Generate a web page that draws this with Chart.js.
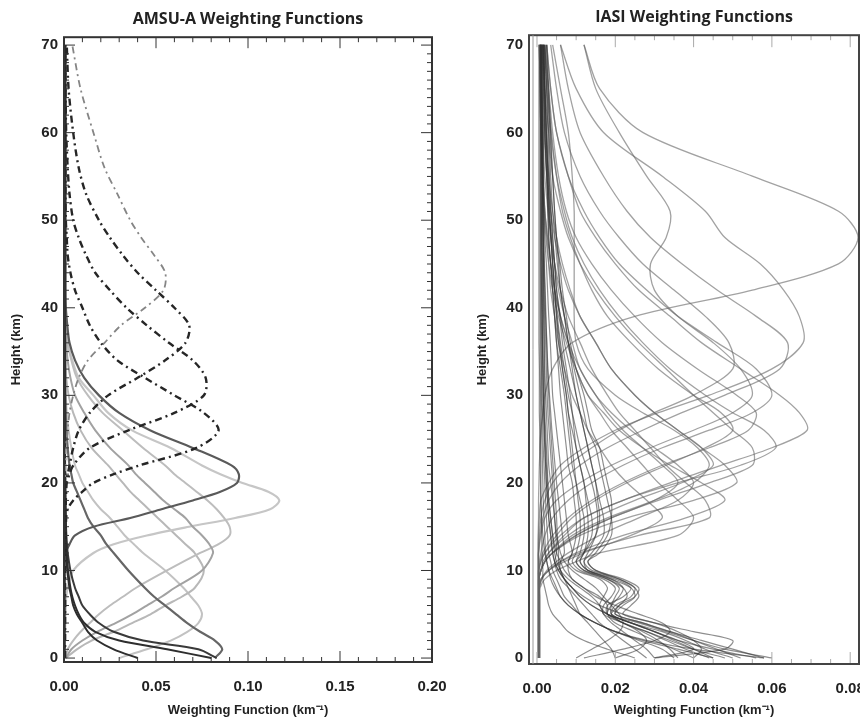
<!DOCTYPE html>
<html>
<head>
<meta charset="utf-8">
<script src="https://cdn.jsdelivr.net/npm/chart.js@4.4.0/dist/chart.umd.min.js"></script>
<style>
  html, body { margin: 0; padding: 0; background: #fff; width: 860px; height: 720px; overflow: hidden; }
  #amsu { position: absolute; left: 0; top: 0; }
  #iasi { position: absolute; left: 440px; top: 0; }
</style>
</head>
<body>
<canvas id="amsu" width="480" height="720"></canvas>
<canvas id="iasi" width="440" height="720"></canvas>
<script>
// tick labels
const amsuXTicks = [0, 0.05, 0.10, 0.15, 0.20];
const iasiXTicks = [0, 0.02, 0.04, 0.06, 0.08];
const heightTicks = [0, 10, 20, 30, 40, 50, 60, 70];

// AMSU-A: heights (km) and weighting function values (km^-1) per channel
const amsuHeights = [0,1,2,3,4,5,6,7,8, 10,12,13,14,15,16,17,18,19,20,21,22, 24,26,28,30,32,34,36,38,40, 42,44,46,48,50,53,56,60,65,70];

const amsuSurf1 = [.040,.027,.018,.013,.010,.007,.005,.004,.003, .0018,.0012,.001,.0009,.0008,.0007,.0007,.0006,.0006,.0006,.0006,.0005, .0005,.0005,.0005,.0005,.0005,.0005,.0005,.0005,.0005, .0004,.0004,.0004,.0004,.0004,.0004,.0004,.0004,.0004,.0004];
const amsuSurf2 = [.080,.056,.030,.017,.011,.008,.006,.0045,.0035, .0022,.0015,.0012,.001,.0009,.0008,.0007,.0007,.0006,.0006,.0006,.0005, .0005,.0005,.0005,.0005,.0005,.0005,.0005,.0005,.0005, .0004,.0004,.0004,.0004,.0004,.0004,.0004,.0004,.0004,.0004];
const amsuSurf3 = [.083,.073,.043,.027,.019,.014,.010,.008,.006, .0035,.002,.0016,.0013,.0011,.001,.0009,.0008,.0008,.0007,.0007,.0006, .0006,.0006,.0006,.0006,.0006,.0006,.0006,.0006,.0006, .0005,.0005,.0005,.0005,.0005,.0005,.0005,.0005,.0005,.0005];
const amsuSurf4 = [.082,.086,.082,.074,.067,.061,.055,.049,.044, .035,.027,.023,.020,.016,.013,.011,.009,.007,.005,.004,.003, .002,.0013,.0009,.0007,.0006,.0006,.0005,.0005,.0005, .0005,.0005,.0005,.0005,.0005,.0005,.0005,.0005,.0005,.0005];
const amsuTrop5 = [.030,.045,.058,.067,.073,.075,.073,.069,.065, .055,.043,.038,.033,.029,.025,.020,.016,.013,.010,.008,.006, .004,.0025,.0015,.001,.0008,.0007,.0006,.0006,.0005, .0005,.0005,.0005,.0005,.0005,.0005,.0005,.0005,.0005,.0005];
const amsuTrop9 = [.001,.007,.015,.027,.037,.047,.055,.064,.071, .076,.071,.066,.061,.056,.051,.046,.041,.036,.032,.028,.024, .015,.009,.005,.0025,.0012,.0008,.0007,.0006,.0005, .0005,.0005,.0005,.0005,.0005,.0005,.0005,.0005,.0005,.0005];
const amsuTrop11 = [.001,.004,.010,.018,.028,.037,.045,.053,.060, .075,.081,.079,.075,.070,.066,.060,.054,.049,.044,.039,.035, .025,.017,.011,.006,.0035,.002,.0012,.0008,.0007, .0006,.0006,.0006,.0006,.0006,.0006,.0006,.0006,.0006,.0006];
const amsuTrop14 = [.0008,.002,.005,.009,.014,.019,.025,.032,.039, .056,.074,.084,.090,.090,.087,.083,.078,.072,.066,.060,.055, .043,.032,.021,.013,.007,.004,.002,.0012,.0008, .0007,.0007,.0007,.0007,.0007,.0007,.0007,.0007,.0007,.0007];
const amsuStrat17 = [.0005,.0005,.0005,.0006,.0007,.0008,.001,.0012,.002, .005,.016,.027,.045,.068,.093,.112,.117,.111,.097,.085,.075, .058,.037,.024,.016,.008,.0045,.002,.0013,.001, .0009,.0009,.0009,.0009,.0009,.0009,.0009,.0009,.0009,.0009];
const amsuStrat21 = [.0005,.0005,.0005,.0005,.0005,.0005,.0005,.0005,.0005, .0006,.001,.003,.006,.016,.036,.053,.070,.085,.094,.095,.091, .070,.047,.030,.019,.011,.006,.003,.0018,.001, .0008,.0008,.0008,.0008,.0008,.0008,.0008,.0008,.0008,.0008];
const amsuStrat26 = [.0005,.0005,.0005,.0005,.0005,.0005,.0005,.0005,.0005, .0005,.0006,.0007,.0008,.001,.0012,.002,.005,.010,.016,.027,.041, .072,.084,.076,.060,.044,.029,.020,.014,.010, .006,.0035,.002,.0015,.001,.0008,.0008,.0007,.0007,.0006];
const amsuStrat31 = [.0005,.0005,.0005,.0005,.0005,.0005,.0005,.0005,.0005, .0005,.0005,.0006,.0006,.0007,.0008,.0009,.001,.0012,.0015,.003,.005, .014,.035,.060,.076,.077,.070,.057,.045,.034, .025,.017,.012,.008,.005,.003,.002,.0012,.0008,.0006];
const amsuStrat37 = [.0005,.0005,.0005,.0005,.0005,.0005,.0005,.0005,.0005, .0005,.0005,.0005,.0006,.0006,.0007,.0007,.0008,.0009,.001,.002,.003, .005,.008,.014,.024,.040,.055,.066,.068,.060, .050,.040,.032,.025,.019,.012,.008,.005,.0025,.0015];
const amsuStrat44 = [.0004,.0004,.0004,.0004,.0004,.0004,.0004,.0004,.0004, .0004,.0004,.0005,.0005,.0005,.0005,.0006,.0006,.0006,.0007,.0007,.0008, .001,.002,.003,.005,.008,.013,.022,.031,.044, .054,.055,.049,.042,.036,.029,.022,.016,.009,.0045];

// IASI: heights (km) and weighting function values (km^-1) per channel
const iasiHeights = [0,1,2,3,4,5,6,7,8,9,10,11,12, 14,16,18,20,22,24,26,28,30, 33,36,39,42,45,48,51, 55,60,65,70];

const iasiR1 = [.0003,.0003,.0003,.0003,.0003,.0003,.0003,.0003,.0003,.0003,.0003,.0003,.0003, .0003,.0004,.0004,.0005,.0006,.0008,.001,.0015,.002, .004,.009,.025,.055,.077,.082,.077, .055,.027,.016,.012];
const iasiR2 = [.0003,.0003,.0003,.0003,.0003,.0003,.0003,.0003,.0003,.0003,.0003,.0003,.0003, .0004,.0006,.001,.003,.006,.012,.020,.031,.044, .060,.068,.067,.063,.057,.048,.043, .032,.017,.010,.006];
const iasiR3 = [.0005,.0005,.0005,.0005,.0005,.0005,.0005,.0005,.0005,.0005,.001,.0015,.003, .007,.012,.022,.034,.047,.060,.069,.067,.062, .052,.042,.034,.026,.020,.015,.011, .008,.005,.0035,.0025];
const iasiR4 = [.0005,.0005,.0005,.0005,.0005,.0005,.0005,.0005,.0005,.0005,.001,.002,.004, .010,.019,.031,.044,.055,.055,.050,.045,.040, .033,.026,.020,.015,.011,.008,.006, .004,.003,.002,.0015];
const iasiR5 = [.0006,.0006,.0006,.0006,.0006,.0006,.0006,.0006,.0006,.001,.003,.006,.011, .026,.044,.043,.038,.033,.029,.025,.021,.018, .014,.011,.008,.006,.0045,.0035,.0028, .002,.0015,.001,.0008];
const iasiR6 = [.0008,.0008,.0008,.0008,.0008,.0008,.0008,.0008,.0008,.002,.005,.010,.016, .036,.040,.036,.031,.027,.023,.019,.016,.013, .010,.008,.006,.0045,.0035,.0027,.002, .0015,.001,.0008,.0006];
const iasiR7 = [.0004,.0004,.0004,.0004,.0004,.0004,.0004,.0004,.0004,.0004,.0004,.0006,.001, .002,.004,.008,.014,.022,.032,.044,.055,.060, .056,.046,.036,.028,.021,.016,.012, .008,.005,.0035,.0025];
const iasiR8 = [.0005,.0005,.0005,.0005,.0005,.0005,.0005,.0005,.0005,.0005,.0005,.001,.002, .006,.012,.022,.036,.052,.061,.058,.050,.043, .034,.027,.021,.016,.012,.009,.007, .005,.0035,.0025,.0018];
const iasiR9 = [.0005,.0005,.0005,.0005,.0005,.0005,.0005,.0005,.0005,.0005,.001,.002,.004, .011,.023,.040,.051,.048,.042,.036,.030,.025, .019,.015,.011,.008,.006,.0045,.0035, .0025,.0018,.0012,.0009];
const iasiR10 = [.0004,.0004,.0004,.0004,.0004,.0004,.0004,.0004,.0004,.0004,.0004,.0004,.0004, .001,.002,.005,.011,.019,.029,.040,.050,.055, .052,.045,.036,.030,.029,.033,.034, .028,.021,.015,.012];
const iasiR11 = [.0004,.0004,.0004,.0004,.0004,.0004,.0004,.0004,.0004,.0004,.001,.002,.004, .009,.018,.030,.040,.044,.041,.035,.027,.020, .013,.010,.0095,.0095,.0095,.0095,.0095, .009,.008,.006,.004];
const iasiR12 = [.0004,.0004,.0004,.0004,.0004,.0004,.0004,.0004,.0004,.0004,.0004,.0004,.0004, .0006,.001,.002,.004,.008,.014,.021,.030,.040, .050,.049,.043,.035,.027,.021,.016, .011,.007,.005,.0035];
const iasiR13 = [.0004,.0004,.0004,.0004,.0004,.0004,.0004,.0004,.0004,.0004,.0004,.0008,.0015, .004,.008,.014,.022,.032,.044,.054,.056,.051, .041,.032,.025,.019,.014,.010,.0075, .0055,.004,.003,.002];
const iasiR14 = [.0006,.0006,.0006,.0006,.0006,.0006,.0006,.0006,.0006,.0012,.0025,.005,.008, .016,.026,.036,.040,.036,.030,.024,.019,.015, .011,.008,.006,.0045,.0035,.0027,.002, .0015,.001,.0008,.0006];
const iasiR15 = [.0006,.0006,.0006,.0006,.0006,.0006,.0006,.0006,.0006,.0012,.003,.006,.010, .022,.038,.048,.042,.034,.027,.021,.017,.013, .010,.0075,.0055,.004,.003,.0023,.0018, .0014,.001,.0008,.0006];
const iasiR16 = [.0006,.0006,.0006,.0006,.0006,.0006,.0006,.0006,.0006,.001,.003,.007,.012, .024,.032,.028,.023,.019,.016,.013,.011,.009, .007,.0055,.0045,.0035,.003,.0025,.002, .0017,.0014,.0012,.001];
const iasiR17 = [.0005,.0005,.0005,.0005,.0005,.0005,.0005,.0005,.0005,.0005,.001,.002,.004, .010,.019,.030,.036,.032,.027,.022,.018,.015, .011,.009,.007,.0055,.0045,.0037,.003, .0025,.002,.0016,.0013];
const iasiR18 = [.0005,.0005,.0005,.0005,.0005,.0005,.0005,.0005,.0005,.0005,.0005,.001,.002, .005,.009,.015,.023,.033,.043,.050,.047,.040, .031,.024,.018,.014,.011,.0085,.0065, .005,.0037,.0028,.002];
const iasiR19 = [.0005,.0005,.0005,.0005,.0005,.0005,.0005,.0005,.0005,.0005,.001,.002,.003, .008,.015,.025,.037,.045,.042,.036,.030,.025, .019,.015,.011,.0085,.0065,.005,.004, .003,.0022,.0017,.0013];
const iasiR20 = [.0004,.0004,.0004,.0004,.0004,.0004,.0004,.0004,.0004,.0004,.0004,.0004,.0004, .0008,.0015,.003,.006,.011,.018,.027,.037,.048, .062,.064,.056,.046,.037,.029,.023, .017,.011,.008,.006];
const iasiW1 = [.056,.045,.036,.030,.024,.019,.020,.024,.025,.021,.014,.012,.014, .017,.017,.016,.015,.014,.013,.012,.011,.010, .0085,.007,.006,.005,.0045,.004,.0035, .003,.0025,.002,.0018];
const iasiW2 = [.060,.048,.040,.033,.026,.018,.018,.022,.024,.020,.013,.011,.012, .014,.014,.013,.012,.011,.010,.009,.008,.0075, .0065,.0055,.005,.0045,.004,.0035,.003, .0027,.0023,.002,.0017];
const iasiW3 = [.050,.043,.038,.032,.024,.019,.019,.020,.021,.018,.012,.010,.011, .012,.012,.011,.010,.009,.0085,.008,.0075,.007, .006,.005,.0045,.004,.0035,.003,.0028, .0025,.002,.0018,.0015];
const iasiW4 = [.045,.040,.035,.030,.024,.018,.016,.017,.018,.016,.010,.008,.009, .010,.010,.0095,.009,.008,.0075,.007,.0065,.006, .0055,.005,.0045,.004,.0035,.003,.0028, .0025,.002,.0018,.0015];
const iasiW5 = [.040,.042,.040,.036,.030,.022,.024,.026,.025,.021,.015,.013,.015, .018,.019,.019,.018,.017,.016,.014,.013,.012, .010,.0085,.0075,.0065,.0058,.005,.0045, .004,.0033,.0028,.0024];
const iasiW6 = [.052,.046,.040,.034,.027,.020,.021,.025,.026,.022,.015,.013,.016, .019,.019,.018,.017,.016,.015,.013,.012,.011, .0095,.008,.007,.006,.0052,.0046,.004, .0035,.003,.0025,.002];
const iasiW7 = [.044,.038,.033,.028,.022,.017,.017,.019,.020,.017,.011,.009,.010, .011,.011,.0105,.010,.0095,.009,.0085,.008,.0075, .0065,.0058,.005,.0045,.004,.0036,.0032, .0028,.0024,.002,.0017];
const iasiW8 = [.058,.050,.042,.034,.027,.020,.022,.025,.024,.019,.013,.012,.013, .015,.0155,.015,.014,.0125,.011,.010,.009,.008, .007,.006,.0052,.0046,.004,.0036,.0032, .0028,.0024,.002,.0017];
const iasiW9 = [.036,.034,.031,.027,.022,.018,.019,.021,.022,.019,.013,.011,.012, .013,.013,.0125,.012,.011,.010,.0095,.009,.0085, .0075,.0065,.0058,.005,.0045,.004,.0036, .0032,.0028,.0024,.002];
const iasiV1 = [.058,.040,.028,.020,.015,.011,.008,.006,.0045,.0035,.003,.0025,.0022, .002,.0018,.0016,.0015,.0014,.0013,.0012,.0012,.0011, .0011,.001,.001,.001,.001,.001,.001, .001,.001,.001,.001];
const iasiV2 = [.035,.032,.026,.020,.015,.011,.008,.006,.005,.004,.003,.0025,.002, .0015,.0012,.001,.0009,.0008,.0007,.0007,.0006,.0006, .0006,.0005,.0005,.0005,.0005,.0005,.0005, .0005,.0005,.0005,.0005];
const iasiV3 = [.030,.040,.036,.030,.024,.018,.014,.011,.009,.007,.006,.005,.0045, .004,.0035,.003,.0028,.0026,.0024,.0022,.002,.002, .0019,.0018,.0017,.0016,.0016,.0015,.0015, .0015,.0015,.0015,.0015];
const iasiV4 = [.012,.022,.030,.034,.032,.026,.020,.015,.012,.009,.007,.006,.005, .004,.0035,.003,.0027,.0024,.0022,.002,.0018,.0016, .0015,.0014,.0013,.0012,.0012,.0011,.0011, .001,.001,.001,.001];
const iasiV5 = [.030,.048,.050,.040,.030,.022,.016,.012,.009,.007,.0055,.0045,.004, .0035,.003,.0027,.0024,.0022,.002,.0018,.0017,.0016, .0015,.0014,.0014,.0013,.0013,.0012,.0012, .0012,.0012,.0012,.0012];
const iasiV6 = [.010,.014,.018,.021,.022,.021,.019,.017,.015,.012,.009,.007,.006, .005,.0045,.004,.0035,.003,.0028,.0026,.0024,.0022, .002,.0019,.0018,.0017,.0016,.0016,.0015, .0015,.0015,.0015,.0015];
const iasiV7 = [.025,.018,.012,.008,.006,.004,.003,.0025,.002,.0015,.0015,.0014,.0013, .0012,.0011,.001,.001,.001,.0009,.0009,.0009,.0009, .0008,.0008,.0008,.0008,.0008,.0008,.0008, .0008,.0008,.0008,.0008];
const iasiV8 = [.045,.036,.027,.020,.015,.011,.009,.007,.006,.005,.004,.0035,.003, .0027,.0024,.0022,.002,.0018,.0016,.0015,.0014,.0013, .0012,.0012,.0011,.0011,.001,.001,.001, .001,.001,.001,.001];
const iasiV9 = [.020,.026,.028,.026,.022,.018,.014,.011,.009,.007,.0055,.0045,.004, .0035,.003,.0027,.0024,.0022,.002,.0019,.0018,.0017, .0016,.0015,.0015,.0014,.0014,.0013,.0013, .0013,.0013,.0013,.0013];
const iasiM1 = [.040,.035,.030,.025,.020,.018,.018,.016,.012,.009,.008,.008,.009, .008,.0075,.007,.0065,.006,.0055,.005,.0045,.004, .0037,.0034,.003,.0027,.0024,.002,.0018, .0016,.0015,.0012,.001];
const iasiM2 = [.030,.028,.025,.022,.019,.017,.016,.014,.011,.008,.006,.006,.007, .0065,.006,.0055,.005,.0046,.0042,.0038,.0035,.0032, .0028,.0025,.0022,.002,.0018,.0016,.0015, .0013,.0012,.001,.0009];
const iasiM3 = [.048,.040,.034,.028,.022,.019,.021,.023,.022,.018,.012,.010,.012, .015,.016,.0155,.015,.014,.013,.012,.011,.010, .009,.008,.007,.006,.0055,.005,.0045, .004,.0035,.003,.0025];
const iasiM4 = [.028,.025,.022,.019,.016,.014,.012,.010,.008,.006,.005,.0045,.005, .0048,.0045,.0042,.004,.0037,.0034,.0031,.0028,.0026, .0024,.0022,.002,.0018,.0017,.0016,.0015, .0013,.0012,.0011,.001];
const iasiM5 = [.020,.019,.017,.015,.013,.011,.010,.009,.008,.007,.006,.0055,.0055, .0052,.005,.0047,.0044,.0041,.0038,.0035,.0032,.003, .0027,.0025,.0023,.0021,.0019,.0018,.0017, .0015,.0013,.0012,.0011];

// upper sounding channels (lighter) then the lower-troposphere bundle
const iasiUpper = [iasiR1, iasiR2, iasiR3, iasiR4, iasiR5, iasiR6, iasiR7, iasiR8, iasiR9, iasiR10,
    iasiR11, iasiR12, iasiR13, iasiR14, iasiR15, iasiR16, iasiR17, iasiR18, iasiR19, iasiR20];
const iasiLower = [iasiW1, iasiW2, iasiW3, iasiW4, iasiW5, iasiW6, iasiW7, iasiW8, iasiW9,
    iasiV1, iasiV2, iasiV3, iasiV4, iasiV5, iasiV6, iasiV7, iasiV8, iasiV9,
    iasiM1, iasiM2, iasiM3, iasiM4, iasiM5];

function toPoints(heights, values) {
    return heights.map((h, i) => ({x: values[i], y: h}));
}

function curve(heights, values, color, width, dash) {
    return {
        data: toPoints(heights, values),
        borderColor: color,
        borderWidth: width,
        borderDash: dash || [],
        showLine: true,
        pointRadius: 0,
        tension: 0.3,
        fill: false
    };
}

// inward tick marks on every side and the frame, IDL style
const frameTicks = {
    id: 'frameTicks',
    afterDatasetsDraw(chart, args, o) {
        const {ctx, chartArea: a, scales: {x, y}} = chart;
        ctx.save();
        ctx.strokeStyle = o.tickColor;
        ctx.lineWidth = 1;
        ctx.beginPath();
        for (let i = 0; ; i++) {
            const v = i * o.xMinor;
            if (v > x.max + 1e-9) break;
            const len = i % o.xEvery === 0 ? o.major : o.minor;
            const px = x.getPixelForValue(v);
            ctx.moveTo(px, a.bottom);
            ctx.lineTo(px, a.bottom - len);
            ctx.moveTo(px, a.top);
            ctx.lineTo(px, a.top + len);
        }
        if (o.yMinor) {
            for (let i = 0; ; i++) {
                const v = i * o.yMinor;
                if (v > y.max + 1e-9) break;
                const len = i % o.yEvery === 0 ? o.major : o.minor;
                const py = y.getPixelForValue(v);
                ctx.moveTo(a.left, py);
                ctx.lineTo(a.left + len, py);
                ctx.moveTo(a.right, py);
                ctx.lineTo(a.right - len, py);
            }
        }
        ctx.stroke();
        ctx.strokeStyle = o.frameColor;
        ctx.lineWidth = o.frameWidth;
        ctx.strokeRect(a.left, a.top, a.right - a.left, a.bottom - a.top);
        if (o.innerLine) {
            ctx.lineWidth = 1;
            ctx.strokeStyle = '#999';
            ctx.beginPath();
            ctx.moveTo(a.left + 4, a.top);
            ctx.lineTo(a.left + 4, a.bottom);
            ctx.stroke();
        }
        ctx.restore();
    }
};

const tickFont = {family: "'Liberation Sans', Arial, sans-serif", size: 15, weight: 'bold'};
const titleFont = {family: "'Liberation Sans', Arial, sans-serif", size: 13, weight: 'bold'};

function makeOptions(cfg) {
    return {
        responsive: false,
        animation: false,
        devicePixelRatio: 1,
        layout: {padding: {left: 0, right: cfg.padRight, top: 0, bottom: 0}},
        plugins: {
            legend: {display: false},
            tooltip: {enabled: false},
            title: {
                display: true,
                text: cfg.title,
                fullSize: false,
                color: '#222',
                font: {family: "'Open Sans', sans-serif", size: 16, weight: 'bold'},
                padding: {top: cfg.titleTop, bottom: 8}
            },
            frameTicks: cfg.ticks
        },
        scales: {
            x: {
                type: 'linear',
                min: cfg.xMin,
                max: cfg.xMax,
                afterBuildTicks: s => { s.ticks = cfg.xTicks.map(v => ({value: v})); },
                afterFit: s => { s.height = cfg.xHeight; s.paddingLeft = 0; s.paddingRight = 0; },
                grid: {display: false, drawTicks: false},
                border: {display: false},
                ticks: {color: '#222', font: tickFont, padding: 16, maxRotation: 0,
                    callback: v => Number(v).toFixed(2)},
                title: {display: true, text: 'Weighting Function (km⁻¹)', color: '#222',
                    font: titleFont, padding: {top: 0, bottom: 2}}
            },
            y: {
                type: 'linear',
                min: cfg.yMin,
                max: cfg.yMax,
                afterBuildTicks: s => { s.ticks = heightTicks.map(v => ({value: v})); },
                afterFit: s => { s.width = cfg.yWidth; },
                grid: {display: false, drawTicks: false},
                border: {display: false},
                ticks: {color: '#222', font: tickFont, padding: 6},
                title: {display: true, text: 'Height (km)', color: '#222',
                    font: titleFont, padding: {top: cfg.yTitlePad, bottom: 0}}
            }
        }
    };
}

const amsuDash = [7, 4, 2, 4];
const amsuDatasets = [
    curve(amsuHeights, amsuStrat26, '#262626', 2.4, amsuDash),
    curve(amsuHeights, amsuStrat31, '#262626', 2.4, amsuDash),
    curve(amsuHeights, amsuStrat37, '#262626', 2.4, amsuDash),
    curve(amsuHeights, amsuStrat44, '#858585', 1.8, amsuDash),
    curve(amsuHeights, amsuSurf1, '#2e2e2e', 2),
    curve(amsuHeights, amsuSurf2, '#2e2e2e', 2),
    curve(amsuHeights, amsuSurf3, '#3a3a3a', 2),
    curve(amsuHeights, amsuStrat21, '#5a5a5a', 2.2),
    curve(amsuHeights, amsuSurf4, '#666666', 2.2),
    curve(amsuHeights, amsuTrop11, '#a2a2a2', 2),
    curve(amsuHeights, amsuTrop14, '#bdbdbd', 2),
    curve(amsuHeights, amsuStrat17, '#c6c6c6', 2.2),
    curve(amsuHeights, amsuTrop9, '#b8b8b8', 2),
    curve(amsuHeights, amsuTrop5, '#c2c2c2', 2)
];

const iasiDatasets = [
    ...iasiLower.map(c => curve(iasiHeights, c, 'rgba(50,50,50,0.55)', 1.2)),
    ...iasiUpper.map(c => curve(iasiHeights, c, 'rgba(100,100,100,0.6)', 1.3))
];

new Chart(document.getElementById('amsu'), {
    type: 'scatter',
    data: {datasets: amsuDatasets},
    options: makeOptions({
        title: 'AMSU-A Weighting Functions', titleTop: 10, padRight: 48,
        xMin: 0, xMax: 0.2, xTicks: amsuXTicks, xHeight: 58,
        yMin: -0.45, yMax: 70.9, yWidth: 64, yTitlePad: 9,
        ticks: {tickColor: '#333', frameColor: '#333', frameWidth: 2,
            xMinor: 0.01, xEvery: 5, yMinor: 1, yEvery: 10, minor: 5, major: 11}
    }),
    plugins: [frameTicks]
});

new Chart(document.getElementById('iasi'), {
    type: 'scatter',
    data: {datasets: iasiDatasets},
    options: makeOptions({
        title: 'IASI Weighting Functions', titleTop: 8, padRight: 21,
        xMin: -0.00204, xMax: 0.08225, xTicks: iasiXTicks, xHeight: 56,
        yMin: -0.69, yMax: 71.1, yWidth: 89, yTitlePad: 35,
        ticks: {tickColor: '#aaa', frameColor: '#444', frameWidth: 2, innerLine: true,
            xMinor: 0.005, xEvery: 4, minor: 5, major: 12}
    }),
    plugins: [frameTicks]
});
</script>
</body>
</html>
